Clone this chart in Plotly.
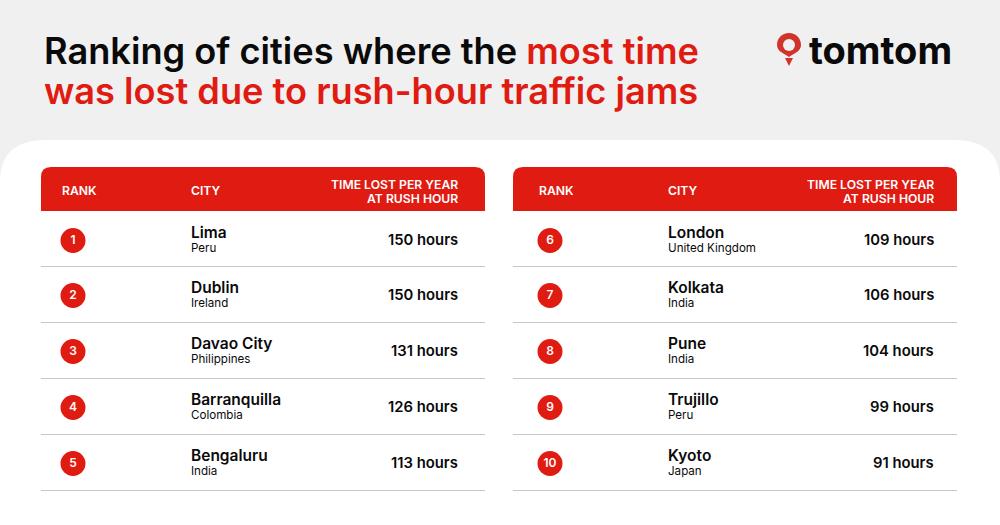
import plotly.graph_objects as go

# table values
ranks_left = [1, 2, 3, 4, 5]
cities_left = ['Lima', 'Dublin', 'Davao City', 'Barranquilla', 'Bengaluru']
countries_left = ['Peru', 'Ireland', 'Philippines', 'Colombia', 'India']
hours_left = [150, 150, 131, 126, 113]

ranks_right = [6, 7, 8, 9, 10]
cities_right = ['London', 'Kolkata', 'Pune', 'Trujillo', 'Kyoto']
countries_right = ['United Kingdom', 'India', 'India', 'Peru', 'Japan']
hours_right = [109, 106, 104, 99, 91]

RED = '#e01b12'
GREY = '#f0f0f1'
FONT = 'Inter'
W = 1000
H = 525

row_mid = [240.5, 295.5, 351.5, 407.5, 463.5]
row_line = [266.5, 322.5, 378.5, 434.5, 490.5]

fig = go.Figure()

# white panel with rounded top corners
fig.add_shape(type='path', path='M0,525 L0,182 Q0,140 46,140 L954,140 Q1000,140 1000,182 L1000,525 Z',
              fillcolor='white', line_width=0, layer='below')


def note(x, y, text, font, xanchor='left'):
    fig.add_annotation(x=x, y=y, text=text, xanchor=xanchor, yanchor='middle', showarrow=False,
                       font=font, borderpad=0, borderwidth=0)


def add_table(x0, ranks, cities, countries, hours):
    x1 = x0 + 444
    # header bar
    path = f'M{x0},211 L{x0},177 Q{x0},167 {x0 + 10},167 L{x1 - 10},167 Q{x1},167 {x1},177 L{x1},211 Z'
    fig.add_shape(type='path', path=path, fillcolor=RED, line_width=0, layer='below')

    for y in row_line:
        fig.add_shape(type='line', x0=x0, x1=x1, y0=y, y1=y, line=dict(color='#c8c8c8', width=1), layer='below')

    rank_x = x0 + 32 if x0 < 500 else x0 + 37
    city_x = x0 + 150 if x0 < 500 else x0 + 155
    value_x = x0 + 417 if x0 < 500 else x0 + 421

    header_font = dict(family=FONT, size=12.2, color='white', weight=600)
    rank_head = x0 + 21 if x0 < 500 else x0 + 26
    note(rank_head, 190, 'RANK', header_font)
    note(city_x, 190, 'CITY', header_font)
    note(value_x, 184.5, 'TIME LOST PER YEAR', header_font, 'right')
    note(value_x, 198, 'AT RUSH HOUR', header_font, 'right')

    # rank circles
    fig.add_trace(go.Scatter(x=[rank_x] * 5, y=row_mid, mode='markers+text', text=[str(r) for r in ranks],
                             marker=dict(size=25, color=RED), textposition='middle center',
                             textfont=dict(family=FONT, size=12, color='white', weight=600)))
    # city names and countries
    fig.add_trace(go.Scatter(x=[city_x] * 5, y=[y - 6 for y in row_mid], mode='text', text=cities,
                             textposition='middle right',
                             textfont=dict(family=FONT, size=15.5, color='#0a0a0a', weight=600)))
    fig.add_trace(go.Scatter(x=[city_x] * 5, y=[y + 8.5 for y in row_mid], mode='text', text=countries,
                             textposition='middle right',
                             textfont=dict(family=FONT, size=11.6, color='#0a0a0a', weight=400)))
    # hours
    for y, h in zip(row_mid, hours):
        note(value_x, y - 0.5, f'{h} hours', dict(family=FONT, size=14.8, color='#0a0a0a', weight=600), 'right')


add_table(41, ranks_left, cities_left, countries_left, hours_left)
add_table(513, ranks_right, cities_right, countries_right, hours_right)

# title
title_font = dict(family=FONT, size=36.2, color='#0a0a0a', weight=600)
note(44, 51, f'Ranking of cities where the <span style="color:{RED}">most time</span>', title_font)
note(44, 91, f'<span style="color:{RED}">was lost due to rush-hour traffic jams</span>', title_font)

# logo
fig.add_shape(type='path', path='M789,57 C783,53 777,51 777,45 C777,38 782,33 789,33 C796,33 801,38 801,45 C801,51 795,53 789,57 Z',
              fillcolor='#d2332a', line_width=0)
fig.add_shape(type='circle', x0=783, x1=795, y0=39, y1=51, fillcolor=GREY, line_width=0)
fig.add_shape(type='path', path='M785,58 L793,58 L789,66 Z', fillcolor='#d2332a', line_width=0)
note(809, 50, 'tomtom', dict(family=FONT, size=38, color='#0a0a0a', weight=700))

fig.update_layout(
    width=W, height=H,
    margin=dict(l=0, r=0, t=0, b=0),
    paper_bgcolor=GREY, plot_bgcolor=GREY,
    showlegend=False,
    hovermode=False,
    xaxis=dict(range=[0, W], visible=False, fixedrange=True),
    yaxis=dict(range=[H, 0], visible=False, fixedrange=True),
)

# page margin would push the figure 8px in
fig.write_html("out.html", config=dict(displayModeBar=False),
               post_script="document.body.style.margin='0';document.body.style.overflow='hidden';")
